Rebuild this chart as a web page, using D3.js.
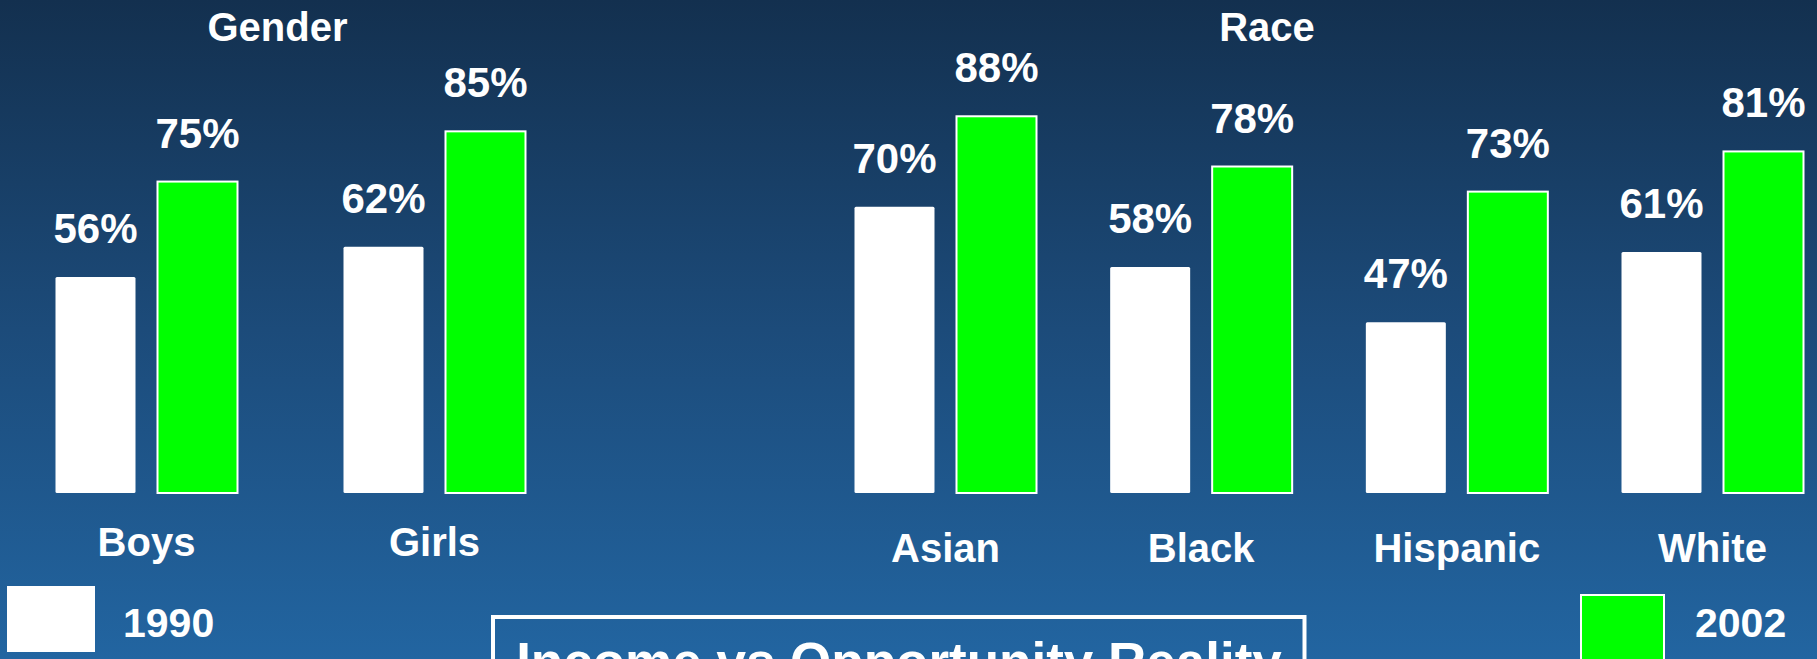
<!DOCTYPE html>
<html>
<head>
<meta charset="utf-8">
<script src="https://cdn.jsdelivr.net/npm/d3@7"></script>
<style>
  html, body { margin: 0; padding: 0; background: #1b4a78; }
  svg { display: block; }
  text { font-family: "Liberation Sans", Arial, Helvetica, sans-serif; font-weight: bold; fill: #ffffff; }
</style>
</head>
<body>
<svg id="chart" width="1817" height="659"></svg>
<script>
// Graduation rates, 1990 vs 2002
const seriesYears = ["1990", "2002"];
const seriesColors = ["#ffffff", "#00ff00"];

const genderCategories = ["Boys", "Girls"];
const gender1990 = [56, 62];
const gender2002 = [75, 85];

const raceCategories = ["Asian", "Black", "Hispanic", "White"];
const race1990 = [70, 58, 47, 61];
const race2002 = [88, 78, 73, 81];

const panelTitles = ["Gender", "Race"];
const captionText = "Income vs Opportunity Reality";

const W = 1817, H = 659;
const svg = d3.select("#chart");

// background gradient
const defs = svg.append("defs");
const grad = defs.append("linearGradient")
  .attr("id", "bg").attr("x1", 0).attr("y1", 0).attr("x2", 0).attr("y2", 1);
grad.append("stop").attr("offset", "0%").attr("stop-color", "#13304f");
grad.append("stop").attr("offset", "50%").attr("stop-color", "#1c4b7a");
grad.append("stop").attr("offset", "100%").attr("stop-color", "#2265a1");
svg.append("rect").attr("width", W).attr("height", H).attr("fill", "url(#bg)");

// shared value scale (bars rise from the plot floor)
const floorY = 493;
const y = d3.scaleLinear().domain([13, 100]).range([floorY, 56]);

// offsets of the two year bars within a group
const inner = d3.scaleBand().domain(seriesYears).range([-91, 91]).paddingInner(0.2157);

function drawPanel(cats, v1990, v2002, xRange, title, titleX, catLabelY) {
  const x = d3.scalePoint().domain(cats).range(xRange);
  const rows = cats.map((c, i) => ({ cat: c, vals: [v1990[i], v2002[i]] }));
  const g = svg.append("g");

  g.append("text")
    .attr("x", titleX).attr("y", 41)
    .attr("text-anchor", "middle")
    .style("font-size", "40px")
    .text(title);

  const groups = g.selectAll("g.grp").data(rows).join("g")
    .attr("class", "grp")
    .attr("transform", d => `translate(${x(d.cat)},0)`);

  const bars = groups.selectAll("g.bar")
    .data(d => d.vals.map((v, k) => ({ year: seriesYears[k], v, k })))
    .join("g").attr("class", "bar");

  bars.append("rect")
    .attr("x", d => inner(d.year))
    .attr("width", inner.bandwidth())
    .attr("y", d => y(d.v))
    .attr("height", d => floorY - y(d.v))
    .attr("rx", d => d.k === 0 ? 1.5 : 0)
    .attr("fill", d => seriesColors[d.k])
    .attr("stroke", d => d.k === 1 ? "#ffffff" : "none")
    .attr("stroke-width", 2);

  bars.append("text")
    .attr("x", d => inner(d.year) + inner.bandwidth() / 2)
    .attr("y", d => y(d.v) - 34)
    .attr("text-anchor", "middle")
    .style("font-size", "42px")
    .text(d => d.v + "%");

  groups.append("text")
    .attr("x", 0).attr("y", catLabelY)
    .attr("text-anchor", "middle")
    .style("font-size", "40px")
    .text(d => d.cat);
}

drawPanel(genderCategories, gender1990, gender2002, [146.5, 434.5], panelTitles[0], 277.5, 556);
drawPanel(raceCategories, race1990, race2002, [945.5, 1712.5], panelTitles[1], 1267, 562);

// legend
const legend = svg.append("g");
legend.append("rect")
  .attr("x", 7).attr("y", 586).attr("width", 88).attr("height", 66)
  .attr("fill", seriesColors[0]);
legend.append("text")
  .attr("x", 123).attr("y", 637)
  .style("font-size", "41px")
  .text(seriesYears[0]);
legend.append("rect")
  .attr("x", 1581).attr("y", 595).attr("width", 83).attr("height", 90)
  .attr("fill", seriesColors[1])
  .attr("stroke", "#ffffff").attr("stroke-width", 2);
legend.append("text")
  .attr("x", 1695).attr("y", 637)
  .style("font-size", "41px")
  .text(seriesYears[1]);

// caption box along the bottom edge
svg.append("rect")
  .attr("x", 493).attr("y", 617).attr("width", 811.5).attr("height", 120)
  .attr("fill", "none").attr("stroke", "#ffffff").attr("stroke-width", 4);
svg.append("text")
  .attr("x", 899).attr("y", 680)
  .attr("text-anchor", "middle")
  .style("font-size", "53px")
  .text(captionText);
</script>
</body>
</html>
